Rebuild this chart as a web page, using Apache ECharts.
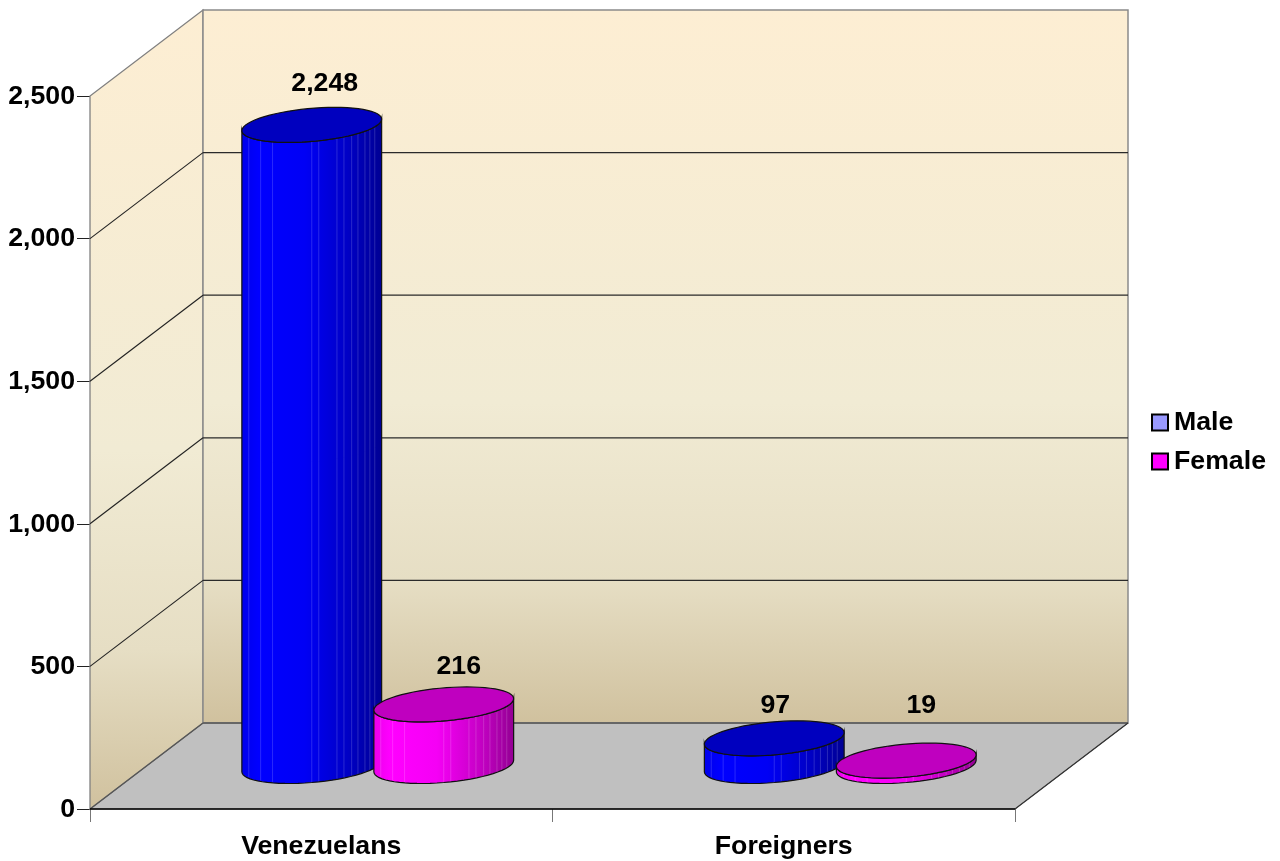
<!DOCTYPE html>
<html>
<head>
<meta charset="utf-8">
<script src="https://cdn.jsdelivr.net/npm/echarts@6/dist/echarts.min.js"></script>
<style>
    html, body { margin: 0; padding: 0; background: #fff; }
    #main { width: 1280px; height: 861px; }
</style>
</head>
<body>
<div id="main"></div>
<script>
var categories = ['Venezuelans', 'Foreigners'];
var maleValues = [2248, 97];
var femaleValues = [216, 19];
var yTicks = [0, 500, 1000, 1500, 2000, 2500];
// label shift from the top of each cylinder, same order as the values
var maleLabelShift = [[13, -41], [1, -33]];
var femaleLabelShift = [[15, -38], [15, -55]];
// where the pale facet edges sit across the cylinder, 0 = left side, 1 = right side
var facetEdges = [0.05, 0.135, 0.22, 0.5, 0.55, 0.68, 0.73, 0.785, 0.83, 0.88, 0.915, 0.95];

// depth of the 3d box in pixels
var DX = 113, DY = 86;
var FONT = '"Liberation Sans", Arial, sans-serif';
var FONT_SIZE = 26.7;

function wallFill() {
    return {
        type: 'linear', x: 0, y: 0, x2: 0, y2: 1,
        colorStops: [
            { offset: 0, color: '#fdeed3' },
            { offset: 0.55, color: '#f1ebd4' },
            { offset: 0.8, color: '#e6dec4' },
            { offset: 1, color: '#d0c19e' }
        ]
    };
}

function line(x1, y1, x2, y2, color, w) {
    return {
        type: 'line',
        shape: { x1: x1, y1: y1, x2: x2, y2: y2 },
        style: { stroke: color, lineWidth: w || 1, fill: null }
    };
}

function renderWalls(params, api) {
    var o = api.coord([0, 0]);
    var x0 = o[0] - (api.size([1, 0])[0] / 2);
    var y0 = o[1];
    var w = api.size([1, 0])[0] * categories.length;
    var yTop = api.coord([0, yTicks[yTicks.length - 1]])[1];
    var kids = [];
    // floor
    kids.push({
        type: 'polygon',
        shape: { points: [[x0, y0], [x0 + DX, y0 - DY], [x0 + w + DX, y0 - DY], [x0 + w, y0]] },
        style: { fill: '#c0c0c0', stroke: '#666', lineWidth: 1 }
    });
    // side wall
    kids.push({
        type: 'polygon',
        shape: { points: [[x0, y0], [x0 + DX, y0 - DY], [x0 + DX, yTop - DY], [x0, yTop]] },
        style: { fill: wallFill(), stroke: '#808080', lineWidth: 1.3 }
    });
    // back wall
    kids.push({
        type: 'rect',
        shape: { x: x0 + DX, y: yTop - DY, width: w, height: y0 - yTop },
        style: { fill: wallFill(), stroke: '#8a8a8a', lineWidth: 1.5 }
    });
    yTicks.forEach(function (t, i) {
        if (i === 0 || i === yTicks.length - 1) return;
        var y = api.coord([0, t])[1];
        kids.push(line(x0, y, x0 + DX, y - DY, '#222', 1.1));
        kids.push(line(x0 + DX, y - DY, x0 + w + DX, y - DY, '#2a2a2a', 1.2));
    });
    kids.push(line(x0 + DX, y0 - DY, x0 + w + DX, y0 - DY, '#666', 2));
    kids.push(line(x0, y0, x0 + DX, y0 - DY, '#555', 1.2));
    kids.push(line(x0 + w, y0, x0 + w + DX, y0 - DY, '#333', 1.2));
    kids.push(line(x0, y0, x0 + w, y0, '#000', 1.5));
    return { type: 'group', children: kids };
}

// ellipse point on the floor plane, t in radians
function ringPoint(cx, cy, t) {
    return [cx + 66 * Math.cos(t) + 23 * Math.sin(t), cy - 17.5 * Math.sin(t)];
}

function mix(c, k) {
    return 'rgb(' + c.map(function (v) { return Math.round(v * k); }).join(',') + ')';
}

function makeRenderer(base, side, shift) {
    return function (params, api) {
        var cat = api.value(0);
        var val = api.value(1);
        var p0 = api.coord([cat, 0]);
        var p1 = api.coord([cat, val]);
        var cx = p0[0] + side + DX / 2;
        var by = p0[1] - DY / 2;
        var ty = p1[1] - DY / 2;
        var t0 = Math.atan2(23, 66);
        var N = 32;
        var kids = [];
        var front = [];
        var i;
        for (i = 0; i <= N; i++) {
            front.push(t0 + Math.PI + Math.PI * i / N);
        }
        // body
        var outline = [];
        front.forEach(function (t) { outline.push(ringPoint(cx, by, t)); });
        front.slice().reverse().forEach(function (t) { outline.push(ringPoint(cx, ty, t)); });
        kids.push({
            type: 'polygon',
            shape: { points: outline },
            style: {
                fill: {
                    type: 'linear', x: 0, y: 0, x2: 1, y2: 0,
                    colorStops: [
                        { offset: 0, color: mix(base, 0.92) },
                        { offset: 0.12, color: mix(base, 1) },
                        { offset: 0.45, color: mix(base, 0.96) },
                        { offset: 0.75, color: mix(base, 0.78) },
                        { offset: 1, color: mix(base, 0.58) }
                    ]
                }
            }
        });
        // pale facet edges
        facetEdges.forEach(function (f) {
            var xx = cx - 70 + f * 140;
            // front arc height at this x
            var t = Math.PI + t0 + Math.acos(1 - 2 * f);
            var dy = ringPoint(0, 0, t)[1];
            kids.push(line(xx, ty + dy, xx, by + dy, 'rgba(255,255,255,0.16)', 1));
        });
        kids.push({
            type: 'polygon',
            shape: { points: outline },
            style: { fill: 'none', stroke: '#111', lineWidth: 1.2 }
        });
        // top cap
        var cap = [];
        for (i = 0; i < N * 2; i++) {
            cap.push(ringPoint(cx, ty, Math.PI * i / N));
        }
        kids.push({
            type: 'polygon',
            shape: { points: cap },
            style: { fill: mix(base, 0.75), stroke: '#111', lineWidth: 1.2 }
        });
        // value label
        var s = shift[params.dataIndex];
        kids.push({
            type: 'text',
            style: {
                x: cx + s[0],
                y: ty + s[1],
                text: val.toLocaleString('en-US'),
                fill: '#000',
                font: 'bold ' + FONT_SIZE + 'px ' + FONT,
                align: 'center',
                verticalAlign: 'middle'
            }
        });
        return { type: 'group', children: kids };
    };
}

var myChart = echarts.init(document.getElementById('main'));

var option = {
    animation: false,
    textStyle: { fontFamily: FONT },
    grid: { left: 90, top: 96, right: 265, bottom: 52, containLabel: false },
    legend: {
        orient: 'vertical',
        left: 1151,
        top: 409,
        padding: 0,
        icon: 'rect',
        itemWidth: 16,
        itemHeight: 16,
        itemGap: 12,
        data: ['Male', 'Female'],
        textStyle: { color: '#000', fontSize: FONT_SIZE, fontWeight: 'bold', fontFamily: FONT, padding: [0, 0, 0, 1] }
    },
    xAxis: {
        type: 'category',
        data: categories,
        axisLine: { show: false },
        axisTick: { show: true, length: 13, lineStyle: { color: '#777' } },
        axisLabel: { color: '#000', fontSize: FONT_SIZE, fontWeight: 'bold', fontFamily: FONT, margin: 24 }
    },
    yAxis: {
        type: 'value',
        min: 0,
        max: 2500,
        interval: 500,
        splitLine: { show: false },
        axisLine: { show: true, lineStyle: { color: '#666' } },
        axisTick: { show: true, length: 13, lineStyle: { color: '#222' } },
        axisLabel: {
            color: '#000', fontSize: FONT_SIZE, fontWeight: 'bold', fontFamily: FONT, margin: 15,
            verticalAlign: 'top',
            lineHeight: 1,
            formatter: function (v) { return v.toLocaleString('en-US'); }
        }
    },
    series: [
        {
            name: 'walls',
            type: 'custom',
            clip: false,
            silent: true,
            z: 1,
            renderItem: renderWalls,
            data: [[0, 0]]
        },
        {
            name: 'Male',
            type: 'custom',
            clip: false,
            z: 2,
            itemStyle: { color: '#9999ff', borderColor: '#000', borderWidth: 1 },
            renderItem: makeRenderer([0, 0, 255], -66, maleLabelShift),
            data: maleValues.map(function (v, i) { return [i, v]; })
        },
        {
            name: 'Female',
            type: 'custom',
            clip: false,
            z: 3,
            itemStyle: { color: '#ff00ff', borderColor: '#000', borderWidth: 1 },
            renderItem: makeRenderer([255, 0, 255], 66, femaleLabelShift),
            data: femaleValues.map(function (v, i) { return [i, v]; })
        }
    ]
};
myChart.setOption(option);
</script>
</body>
</html>
